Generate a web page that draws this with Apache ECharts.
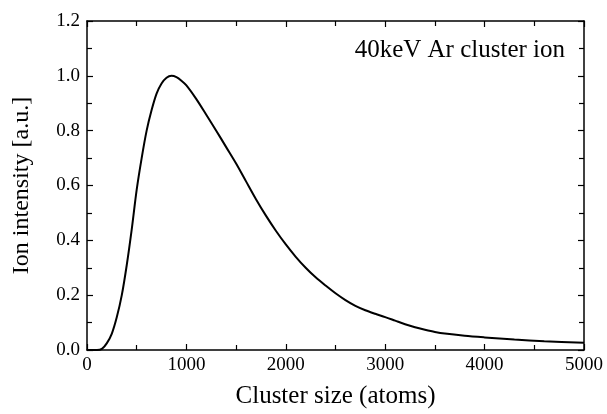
<!DOCTYPE html>
<html>
<head>
<meta charset="utf-8">
<script src="https://cdn.jsdelivr.net/npm/echarts@6/dist/echarts.min.js"></script>
<style>
html,body{margin:0;padding:0;background:#fff;}
#c{width:607px;height:414px;}
</style>
</head>
<body>
<div id="c"></div>
<script>
var clusterSize = [0,50,100,150,200,250,300,350,400,450,500,550,600,650,700,750,800,850,900,950,1000,1100,1200,1300,1400,1500,1600,1700,1800,1900,2000,2100,2200,2300,2400,2500,2600,2700,2800,2900,3000,3100,3200,3300,3400,3500,3600,3800,4000,4300,4600,5000];
var intensity   = [0,0,0,0.004,0.025,0.06,0.12,0.2,0.31,0.44,0.585,0.70,0.80,0.875,0.935,0.972,0.993,1.0,0.995,0.982,0.965,0.915,0.858,0.80,0.74,0.68,0.615,0.55,0.49,0.435,0.385,0.34,0.30,0.265,0.235,0.207,0.182,0.161,0.145,0.132,0.12,0.107,0.094,0.083,0.074,0.066,0.060,0.052,0.046,0.038,0.032,0.026];
var xTicks = [0,1000,2000,3000,4000,5000];
var yTicks = [0.0,0.2,0.4,0.6,0.8,1.0,1.2];
var labelText = '40keV Ar cluster ion';
var xTitle = 'Cluster size (atoms)';
var yTitle = 'Ion intensity [a.u.]';

var font = '"Liberation Serif", "Times New Roman", serif';
var chart = echarts.init(document.getElementById('c'), null, {renderer:'canvas'});
var data = clusterSize.map(function(x,i){return [x,intensity[i]];});
var axisLine = {show:true, onZero:false, lineStyle:{color:'#000', width:1.5}};
var tick = {show:true, inside:true, length:6, lineStyle:{color:'#000', width:1.2}};
var minor = {show:true, splitNumber:2, length:5, lineStyle:{color:'#000', width:1.2}};
chart.setOption({
  animation:false,
  backgroundColor:'#fff',
  grid:{left:87, right:23, top:21, bottom:62, containLabel:false},
  xAxis:[{
    type:'value', min:0, max:5000, interval:1000, position:'bottom',
    axisLine:axisLine, axisTick:tick, minorTick:minor, splitLine:{show:false},
    axisLabel:{color:'#000', fontFamily:font, fontSize:19, margin:6,
      formatter:function(v){return xTicks.indexOf(v)>=0 ? String(v) : '';}},
    name:xTitle, nameLocation:'middle', nameGap:34,
    nameTextStyle:{color:'#000', fontFamily:font, fontSize:25}
  },{
    type:'value', min:0, max:5000, interval:1000, position:'top',
    axisLine:axisLine, axisTick:tick, minorTick:minor, splitLine:{show:false},
    axisLabel:{show:false}
  }],
  yAxis:[{
    type:'value', min:0, max:1.2, interval:0.2, position:'left',
    axisLine:axisLine, axisTick:tick, minorTick:minor, splitLine:{show:false},
    axisLabel:{color:'#000', fontFamily:font, fontSize:19, margin:7,
      formatter:function(v){return v.toFixed(1);}},
    name:yTitle, nameLocation:'middle', nameGap:53, nameRotate:90,
    nameTextStyle:{color:'#000', fontFamily:font, fontSize:24}
  },{
    type:'value', min:0, max:1.2, interval:0.2, position:'right',
    axisLine:axisLine, axisTick:tick, minorTick:minor, splitLine:{show:false},
    axisLabel:{show:false}
  }],
  graphic:[{
    type:'text', right:42, top:38,
    style:{text:labelText, fill:'#000', font:'25px "Liberation Serif", "Times New Roman", serif'}
  }],
  series:[{
    type:'line', data:data, xAxisIndex:0, yAxisIndex:0,
    smooth:0.3, showSymbol:false,
    lineStyle:{color:'#000', width:2}
  }]
});
</script>
</body>
</html>
